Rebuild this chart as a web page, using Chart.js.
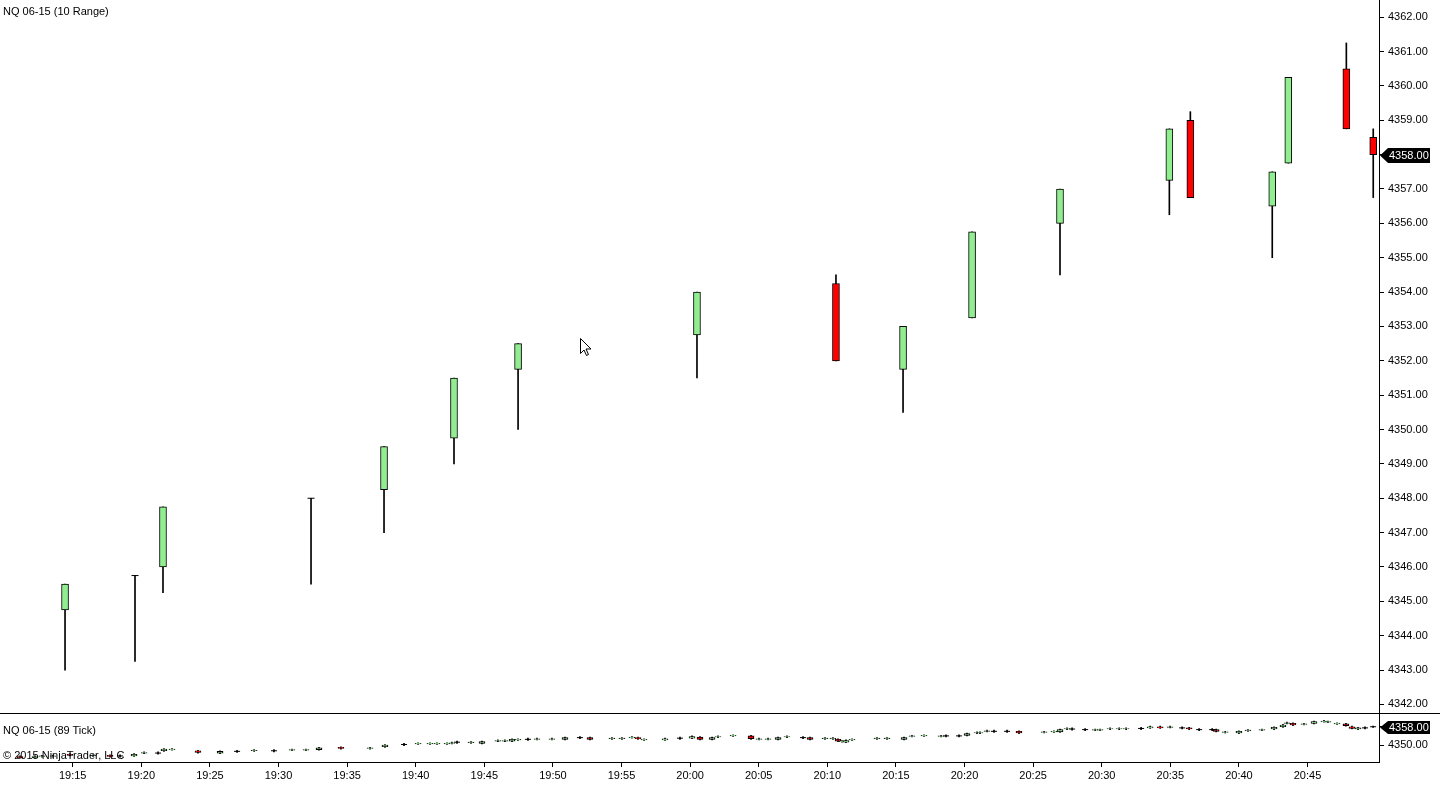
<!DOCTYPE html>
<html><head><meta charset="utf-8">
<script src="https://cdn.jsdelivr.net/npm/chart.js@4.4.1/dist/chart.umd.min.js"></script>
<style>
html,body{margin:0;padding:0;background:#fff;overflow:hidden}
#wrap{position:relative;width:1440px;height:789px;background:#fff}
#main{position:absolute;left:0;top:0}
#sub{position:absolute;left:0;top:713px}
.lbl{position:absolute;left:3px;font:11px "Liberation Sans",Arial,sans-serif;color:#000;white-space:nowrap;line-height:13px}
</style></head><body>
<div id="wrap">
<canvas id="main" width="1440" height="713"></canvas>
<canvas id="sub" width="1440" height="76"></canvas>
<div class="lbl" style="top:5px">NQ 06-15 (10 Range)</div>
<div class="lbl" style="top:724px">NQ 06-15 (89 Tick)</div>
<div class="lbl" style="top:749px">© 2015 NinjaTrader, LLC</div>
</div>
<script>
// ---- Main panel: NQ 06-15 (10 Range) ---- times are minutes after 19:00
const mainTimes = [14.44, 19.54, 21.58, 32.37, 37.69, 42.79, 47.46, 60.5, 70.63, 75.52, 80.55, 86.96, 94.93, 96.46, 102.43, 103.6, 107.83, 109.79];
const mainOpen  = [4344.75, 4345.75, 4346, 4348, 4348.25, 4349.75, 4351.75, 4352.75, 4354.25, 4351.75, 4353.25, 4356, 4357.25, 4359, 4356.5, 4357.75, 4360.5, 4358.5];
const mainHigh  = [4345.5, 4345.75, 4347.75, 4348, 4349.5, 4351.5, 4352.5, 4354, 4354.5, 4353, 4355.75, 4357, 4358.75, 4359.25, 4357.5, 4360.25, 4361.25, 4358.75];
const mainLow   = [4343, 4343.25, 4345.25, 4345.5, 4347, 4349, 4350, 4351.5, 4352, 4350.5, 4353.25, 4354.5, 4356.25, 4356.75, 4355, 4357.75, 4358.75, 4356.75];
const mainClose = [4345.5, 4345.75, 4347.75, 4348, 4349.5, 4351.5, 4352.5, 4354, 4352, 4353, 4355.75, 4357, 4358.75, 4356.75, 4357.5, 4360.25, 4358.75, 4358];

// ---- Lower panel: NQ 06-15 (89 Tick) ----
const subTimes = [11.16,12.25,12.76,13.56,14.8,16.48,17.72,18.45,19.47,20.2,21.22,21.65,22.24,24.13,25.74,26.98,28.22,29.67,30.98,32.0,
 32.95,34.55,36.67,37.76,39.15,40.17,41.04,41.55,42.28,42.64,43.01,44.03,44.83,45.99,46.5,47.02,47.45,48.18,48.84,49.93,
 50.88,51.97,52.7,54.3,55.03,55.76,56.2,56.64,58.17,59.26,60.14,60.72,61.6,62.03,63.13,64.44,65.02,65.68,66.41,67.06,
 68.23,68.74,69.83,70.41,70.78,71.07,71.36,71.8,73.62,74.35,75.59,76.17,77.05,78.29,78.65,79.6,80.18,80.91,81.13,81.64,
 82.15,83.1,83.97,85.8,86.52,86.96,87.47,87.84,88.79,89.52,89.88,90.61,91.27,91.78,92.87,93.53,94.26,94.98,95.86,96.37,
 97.1,98.05,98.34,99.0,100.0,100.66,101.68,102.56,103.21,103.5,103.94,104.74,105.47,106.2,106.49,107.15,107.8,108.24,108.68,109.19,109.78];
const subOpen = [4345,4344.5,4345,4345,4346,4345.25,4345.5,4345.25,4345.25,4346.5,4346.5,4347.5,4348,4347.5,4346.5,4347.25,4347.5,4347.5,4347.75,4347.75,
 4348,4349,4348.5,4349.25,4350.25,4350.5,4350.5,4350.5,4350.5,4350.75,4351.25,4351,4350.75,4351.75,4351.75,4351.75,4352.25,4352.5,4352.5,4352.5,
 4352.5,4353.25,4353.25,4352.75,4352.75,4353.25,4353.25,4352.25,4352.25,4353,4353,4353.5,4352.5,4353.5,4354,4354,4352.5,4352.5,4352.5,4353.5,
 4353.25,4353.25,4352.75,4352.75,4352.5,4351.5,4351.25,4352.25,4352.75,4352.75,4352.5,4353.75,4354,4353.75,4354,4354,4354.25,4355.25,4355.25,4356,
 4356,4356,4356,4355.5,4355.75,4355.75,4357,4357,4356.75,4356.5,4356.5,4357,4357,4357,4357.25,4357.5,4358,4357.75,4357.5,4357.5,
 4356.75,4356.75,4356.75,4355.5,4355.25,4356.25,4356.5,4357,4358,4359.5,4359.5,4359,4359.5,4360.25,4360,4359.25,4359.25,4358,4357,4357.5,4358];
const subHigh = [4345.25,4345.25,4345.5,4345.5,4346.25,4345.75,4345.75,4345.75,4346.25,4347,4347,4348.5,4348.5,4347.75,4347.5,4347.75,4348,4348,4348.25,4348.25,
 4349,4349.25,4349,4350.25,4350.75,4351,4351,4351,4351,4351.25,4351.75,4351.5,4351.75,4352.25,4352.25,4352.75,4352.75,4353,4353,4353,
 4353.5,4353.75,4353.5,4353.25,4353.25,4353.75,4353.5,4352.75,4353,4353.5,4354,4353.75,4353.5,4354,4354.5,4354.25,4353,4353,4353.5,4354,
 4353.75,4353.5,4353.25,4353.25,4352.75,4352,4352.25,4352.75,4353.25,4353.25,4353.5,4354.25,4354.5,4354.25,4354.5,4354.5,4355.25,4355.75,4355.75,4356.5,
 4356.5,4356.5,4356.25,4356,4356.25,4357,4357.5,4357.5,4357.25,4357,4357,4357.5,4357.5,4357.5,4357.75,4358.25,4358.25,4358.25,4358,4357.75,
 4357.25,4357.25,4357,4356,4356.25,4356.75,4357,4358,4359,4360,4359.75,4359.5,4360.5,4360.75,4360.5,4359.75,4359.5,4358.25,4357.75,4358,4358.25];
const subLow = [4344.25,4344.25,4344.75,4344.75,4345.25,4345,4344.75,4344.75,4345,4346.25,4346,4347.25,4347.75,4346.5,4346.25,4346.75,4347.25,4347,4347.5,4347.5,
 4347.75,4348.25,4348.25,4349,4349.75,4350.25,4350.25,4350.25,4350.25,4350.5,4350.75,4350.75,4350.5,4351.5,4351.5,4351.5,4352,4352,4352.25,4352.25,
 4352.25,4352.75,4352.25,4352.5,4352.5,4353,4352.5,4352,4352,4352.5,4352.75,4352.25,4352.25,4353.25,4353.75,4352.5,4352.25,4352.25,4352.25,4353.25,
 4352.75,4352.25,4352.5,4352.5,4351.5,4351.25,4351,4352,4352.5,4352.5,4352.25,4353.5,4353.75,4353.5,4353.5,4353.5,4354,4355,4355,4355.75,
 4355.5,4355.5,4355,4355.25,4355.5,4355.5,4356.75,4356.5,4356.25,4356.25,4356.25,4356.75,4356.75,4356.75,4356.75,4357.25,4357.25,4357.5,4357,4356.75,
 4356.25,4356.25,4355.75,4355.25,4355,4356,4356.25,4356.75,4357.75,4359.25,4358.5,4358.75,4359.25,4360,4359.75,4359,4358.25,4357,4356.75,4357,4357.75];
const subClose = [4344.5,4345,4345.25,4345.25,4345.5,4345.5,4345,4345.25,4346,4346.75,4346.5,4348.25,4348.25,4346.75,4347.25,4347.25,4347.75,4347.5,4348,4348,
 4348.75,4348.5,4348.75,4350,4350.25,4350.75,4350.75,4350.75,4350.75,4351,4351.25,4351.25,4351.5,4352,4352,4352.5,4352.5,4352.5,4352.75,4352.75,
 4353.25,4353.25,4352.5,4353,4353,4353.5,4352.75,4352.5,4352.75,4353,4353.75,4352.5,4353.25,4353.75,4354.25,4352.75,4352.75,4352.75,4353.25,4353.75,
 4353.25,4352.5,4353,4353,4351.75,4351.75,4352,4352.5,4353,4353,4353.25,4354,4354.25,4354,4354,4354,4355,4355.5,4355.5,4356.25,
 4356,4356,4355.25,4355.75,4356,4356.75,4357.25,4357,4356.75,4356.75,4356.75,4357.25,4357.25,4357.25,4357.25,4358,4357.5,4358,4357.5,4357,
 4356.75,4356.75,4356,4355.75,4356,4356.5,4356.75,4357.75,4358.75,4359.75,4358.75,4359.25,4360.25,4360.5,4360.25,4359.5,4358.5,4357.25,4357.5,4357.5,4358];

// ---- Axes ----
const priceTicksMain = [4342,4343,4344,4345,4346,4347,4348,4349,4350,4351,4352,4353,4354,4355,4356,4357,4358,4359,4360,4361,4362];
const priceTicksSub = [4350, 4358];
const timeTicks = ['19:15','19:20','19:25','19:30','19:35','19:40','19:45','19:50','19:55','20:00','20:05','20:10','20:15','20:20','20:25','20:30','20:35','20:40','20:45'];
const xMin = 9.7, xMax = 110.21;

const FONT = '"Liberation Sans", Arial, sans-serif';
const UP = '#90EE90', DOWN = '#FF0000';
const toMin = s => { const [h, m] = s.split(':').map(Number); return (h - 19) * 60 + m; };
const fmtMin = v => { const t = Math.round((19 * 60 + v)); const h = Math.floor(t / 60), m = t % 60; return h + ':' + String(m).padStart(2, '0'); };

function candleDatasets(times, o, h, l, c, bodyW, dojiR) {
  return [
    { type: 'bar', data: times.map((t, i) => ({ x: t, y: [o[i], c[i]] })),
      backgroundColor: times.map((t, i) => c[i] >= o[i] ? UP : DOWN),
      borderColor: '#000', borderWidth: 1, borderSkipped: false,
      barThickness: bodyW, grouped: false, order: 0 },
    { type: 'bar', data: times.map((t, i) => ({ x: t, y: [l[i], h[i]] })),
      backgroundColor: '#000', borderWidth: 0, barThickness: 1, grouped: false, order: 2 },
    { type: 'line', showLine: false,
      data: times.map((t, i) => ({ x: t, y: c[i] })).filter((p, i) => o[i] === c[i]),
      pointStyle: 'line', pointRadius: dojiR, pointBorderColor: '#000', pointBorderWidth: 1, order: 1 }
  ];
}

function lastMarker(closes, hgt) {
  return {
    id: 'lastMarker',
    afterDraw(chart) {
      const ctx = chart.ctx, y = Math.round(chart.scales.y.getPixelForValue(closes[closes.length - 1])) + 0.5;
      const x0 = chart.chartArea.right + 1, x1 = x0 + 8, x2 = 1430, hh = hgt / 2;
      ctx.save();
      ctx.fillStyle = '#000';
      ctx.beginPath();
      ctx.moveTo(x0, y); ctx.lineTo(x1, y - hh); ctx.lineTo(x2, y - hh); ctx.lineTo(x2, y + hh); ctx.lineTo(x1, y + hh);
      ctx.closePath(); ctx.fill();
      ctx.fillStyle = '#fff'; ctx.font = '11px ' + FONT; ctx.textBaseline = 'middle'; ctx.textAlign = 'left';
      ctx.fillText(closes[closes.length - 1].toFixed(2), x0 + 9, y + 0.5);
      ctx.restore();
    }
  };
}

const cursorPlugin = {
  id: 'cursor',
  afterDraw(chart) {
    const ctx = chart.ctx, x = 580.5, y = 338.5;
    ctx.save();
    ctx.beginPath();
    const pts = [[0,0],[0,15],[3.5,11.5],[6,17],[8,16],[5.5,10.5],[10.5,10.5]];
    ctx.moveTo(x + pts[0][0], y + pts[0][1]);
    for (let i = 1; i < pts.length; i++) ctx.lineTo(x + pts[i][0], y + pts[i][1]);
    ctx.closePath();
    ctx.fillStyle = '#fff'; ctx.fill();
    ctx.strokeStyle = '#000'; ctx.lineWidth = 1; ctx.stroke();
    ctx.restore();
  }
};

const separator = {
  id: 'separator',
  afterDraw(chart) {
    const ctx = chart.ctx;
    ctx.save(); ctx.strokeStyle = '#000'; ctx.lineWidth = 1;
    ctx.beginPath(); ctx.moveTo(0, 0.5); ctx.lineTo(1440, 0.5); ctx.stroke();
    ctx.restore();
  }
};

const yAxis = (min, max, ticks) => ({
  position: 'right', min, max,
  afterBuildTicks: s => { s.ticks = ticks.map(v => ({ value: v })); },
  afterFit: s => { s.width = 61; s.paddingTop = 0; s.paddingBottom = 0; },
  ticks: { color: '#000', font: { family: FONT, size: 11 }, padding: 4, callback: v => Number(v).toFixed(2) },
  grid: { drawOnChartArea: false, drawTicks: true, tickLength: 5, color: '#000' },
  border: { display: true, color: '#000', width: 1 }
});

const common = {
  responsive: false, animation: false, devicePixelRatio: 1, events: [],
  layout: { padding: 0, autoPadding: false },
  plugins: { legend: { display: false }, tooltip: { enabled: false } }
};

new Chart(document.getElementById('main'), {
  type: 'bar',
  data: { datasets: candleDatasets(mainTimes, mainOpen, mainHigh, mainLow, mainClose, 7, 3.5) },
  options: Object.assign({}, common, {
    scales: {
      x: { type: 'linear', min: xMin, max: xMax, display: false, offset: false, grid: { offset: false } },
      y: yAxis(4341.75, 4362.5, priceTicksMain)
    }
  }),
  plugins: [lastMarker(mainClose, 15), cursorPlugin]
});

new Chart(document.getElementById('sub'), {
  type: 'bar',
  data: { datasets: candleDatasets(subTimes, subOpen, subHigh, subLow, subClose, 6, 3) },
  options: Object.assign({}, common, {
    scales: {
      x: { type: 'linear', min: xMin, max: xMax, position: 'bottom', offset: false,
        afterBuildTicks: s => { s.ticks = timeTicks.map(t => ({ value: toMin(t) })); },
        afterFit: s => { s.height = 27; s.paddingLeft = 0; s.paddingRight = 0; },
        ticks: { color: '#000', font: { family: FONT, size: 11 }, padding: 2, maxRotation: 0, autoSkip: false, callback: v => fmtMin(v) },
        grid: { offset: false, drawOnChartArea: false, drawTicks: true, tickLength: 5, color: '#000' },
        border: { display: true, color: '#000', width: 1 } },
      y: yAxis(4342.6, 4364, priceTicksSub)
    }
  }),
  plugins: [lastMarker(subClose, 13), separator]
});
</script>
</body></html>
